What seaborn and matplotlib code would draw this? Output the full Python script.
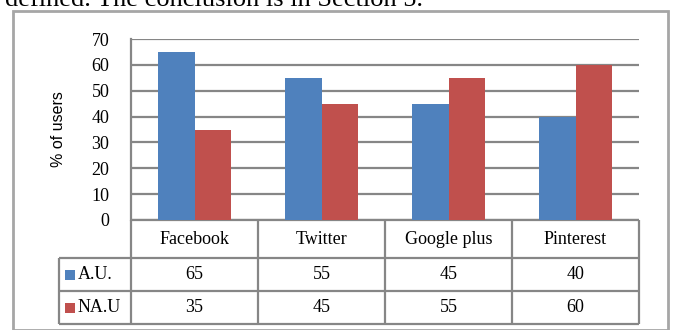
#!/usr/bin/env python3
"""Share of A.U. / NA.U users per social network, Excel style bars + data table."""

import matplotlib
matplotlib.use("Agg")
import matplotlib.pyplot as plt
import pandas as pd
import seaborn as sns

CATEGORIES = ["Facebook", "Twitter", "Google plus", "Pinterest"]
SERIES = ["A.U.", "NA.U"]
AU_VALUES = [65, 55, 45, 40]
NAU_VALUES = [35, 45, 55, 60]
Y_TICKS = [0, 10, 20, 30, 40, 50, 60, 70]

COLORS = {"A.U.": "#4F81BD", "NA.U": "#C0504D"}
GRID = "#868686"
SERIF = "Liberation Serif"
SANS = "Liberation Sans"

W, H = 673, 330
# plot area in pixels (left, right, top, bottom)
PL, PR, PT, PB = 131, 639, 39, 220
ROWS = [220, 258, 291, 324]
LEG_LEFT = 59
FS = 13


def main() -> None:
    sns.set_theme(style="white")
    plt.rcParams["font.family"] = [SERIF, "DejaVu Serif"]

    df = pd.DataFrame(
        {
            "network": CATEGORIES * 2,
            "users": AU_VALUES + NAU_VALUES,
            "group": [SERIES[0]] * len(CATEGORIES) + [SERIES[1]] * len(CATEGORIES),
        }
    )

    fig = plt.figure(figsize=(W / 100, H / 100), dpi=100)
    fig.patch.set_facecolor("white")

    # full-figure pixel canvas for the frame and the data table
    tab = fig.add_axes([0, 0, 1, 1], zorder=0)
    tab.set_xlim(0, W)
    tab.set_ylim(H, 0)
    tab.axis("off")

    ax = fig.add_axes(
        [PL / W, 1 - PB / H, (PR - PL) / W, (PB - PT) / H], zorder=1
    )
    ax.patch.set_alpha(0)
    sns.barplot(
        data=df,
        x="network",
        y="users",
        hue="group",
        palette=COLORS,
        width=0.567,
        saturation=1,
        linewidth=0,
        ax=ax,
    )
    ax.get_legend().remove()
    ax.set_xlim(-0.5, len(CATEGORIES) - 0.5)
    ax.set_ylim(0, 70)
    ax.set_yticks(Y_TICKS)
    ax.set_yticklabels([str(t) for t in Y_TICKS], fontsize=FS, family=SERIF)
    ax.tick_params(axis="y", length=0, pad=15.5, colors="black")
    ax.set_xticks([])
    ax.set_xlabel("")
    ax.set_ylabel("% of users", fontsize=11.5, family=SANS, color="black")
    ax.yaxis.set_label_coords(-0.128, 0.5)
    ax.yaxis.grid(True, color=GRID, linewidth=1.6)
    ax.set_axisbelow(True)
    for side in ("top", "right", "bottom"):
        ax.spines[side].set_visible(False)
    ax.spines["left"].set_color(GRID)
    ax.spines["left"].set_linewidth(1.6)

    # cropped body text above the chart
    tab.text(5, 5.5, "defined. The conclusion is in Section 5.", fontsize=19,
             family=SERIF, ha="left", va="baseline", color="black")

    # outer chart frame
    frame = plt.Rectangle((13, 11), 655, 319, fill=False, edgecolor="#A6A6A6",
                          linewidth=2)
    tab.add_patch(frame)

    # data table grid
    lc = dict(color=GRID, linewidth=1.6, solid_capstyle="butt")
    col_w = (PR - PL) / len(CATEGORIES)
    col_x = [PL + i * col_w for i in range(len(CATEGORIES) + 1)]
    tab.plot([PL, PR], [ROWS[0], ROWS[0]], **lc)
    for y in ROWS[1:]:
        tab.plot([LEG_LEFT, PR], [y, y], **lc)
    for x in col_x:
        tab.plot([x, x], [ROWS[0], ROWS[-1]], **lc)
    tab.plot([LEG_LEFT, LEG_LEFT], [ROWS[1], ROWS[-1]], **lc)

    # header row
    hy = (ROWS[0] + ROWS[1]) / 2
    for i, name in enumerate(CATEGORIES):
        tab.text(col_x[i] + col_w / 2, hy, name, fontsize=FS, ha="center",
                 va="center", color="black")

    # value rows with legend keys
    for r, (label, vals) in enumerate(zip(SERIES, [AU_VALUES, NAU_VALUES])):
        cy = (ROWS[r + 1] + ROWS[r + 2]) / 2
        tab.add_patch(plt.Rectangle((65, cy - 5), 10, 10, color=COLORS[label],
                                    linewidth=0))
        tab.text(78, cy, label, fontsize=FS, ha="left", va="center",
                 color="black")
        for i, v in enumerate(vals):
            tab.text(col_x[i] + col_w / 2, cy, str(v), fontsize=FS,
                     ha="center", va="center", color="black")

    fig.savefig("out.png", dpi=100)


if __name__ == "__main__":
    main()
